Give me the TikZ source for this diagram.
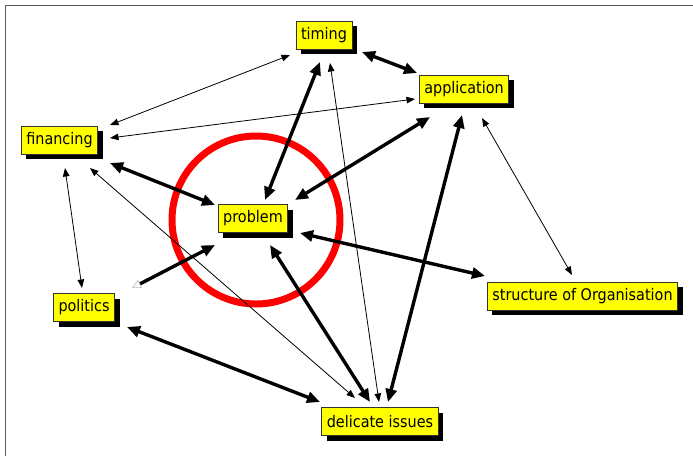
\documentclass[tikz,border=0pt]{standalone}
\usepackage{fontspec}
\setmainfont{DejaVu Sans Condensed}
\usetikzlibrary{arrows.meta,shadows}
\definecolor{boxfill}{RGB}{255,255,0}
\definecolor{framegray}{RGB}{90,90,90}
\tikzset{
  concept/.style={draw=black!80, line width=0.8pt, fill=boxfill,
    inner xsep=5pt, inner ysep=0pt, minimum height=28pt,
    font=\fontsize{16}{19}\selectfont,
    general shadow={fill=black, shadow xshift=5pt, shadow yshift=-5pt}},
  strong/.style={line width=3.4pt,
    {Triangle[length=13pt,width=11pt]}-{Triangle[length=13pt,width=11pt]}},
  weak/.style={line width=0.8pt,
    {Triangle[length=8.5pt,width=6.5pt]}-{Triangle[length=8.5pt,width=6.5pt]}},
}
\begin{document}
\begin{tikzpicture}[x=1pt,y=-1pt]
\useasboundingbox (0,0) rectangle (693,456);
\fill[white] (0,0) rectangle (693,456);
% frame edges
\draw[framegray, line width=1.2pt] (5.5,456) -- (5.5,5.5) -- (693,5.5);

% concept boxes
\node[concept] (timing)      at (324,35)    {timing};
\node[concept] (application) at (464,89)    {application};
\node[concept] (financing)   at (59.5,140)  {financing};
\node[concept] (problem)     at (253,218.5) {problem};
\node[concept] (politics)    at (84,307.5)  {politics};
\node[concept] (structure)   at (582.5,296) {structure of Organisation};
\node[concept] (delicate)    at (380,421.5) {delicate issues};

% highlight ring around the core problem
\draw[red, line width=7pt] (256,220) circle[radius=84];

% relations
\draw[strong] ([shift={(38,17)}]timing.center) -- ([shift={(-47,-16)}]application.center);
\draw[weak]   ([shift={(50.5,-15)}]financing.center) -- ([shift={(-34,20)}]timing.center);
\draw[weak]   ([shift={(50.5,-2)}]financing.center) -- ([shift={(-49,10)}]application.center);
\draw[strong] ([shift={(50.5,23)}]financing.center) -- ([shift={(-38,-13.5)}]problem.center);
\draw[weak]   ([shift={(5.5,28)}]financing.center) -- ([shift={(-2,-19.5)}]politics.center);
\draw[weak]   ([shift={(30.5,28)}]financing.center) -- ([shift={(-25,-23.5)}]delicate.center);
\draw[strong] ([shift={(-4,27)}]timing.center) -- ([shift={(12,-18.5)}]problem.center);
\draw[weak]   ([shift={(6,28)}]timing.center) -- ([shift={(-1,-19.5)}]delicate.center);
\draw[strong] ([shift={(-34,28)}]application.center) -- ([shift={(42,-18.5)}]problem.center);
\draw[strong] ([shift={(-2,26)}]application.center) -- ([shift={(8,-19.5)}]delicate.center);
\draw[weak]   ([shift={(18,29)}]application.center) -- ([shift={(-10.5,-21)}]structure.center);
\draw[strong] ([shift={(47,14.5)}]problem.center) -- ([shift={(-97.5,-20)}]structure.center);
\draw[strong] ([shift={(17,26.5)}]problem.center) -- ([shift={(-10,-19.5)}]delicate.center);
\draw[line width=3.4pt,
  {Triangle[length=9pt,width=9pt,fill=white,color=gray!55,line width=0.6pt]}-{Triangle[length=13pt,width=11pt]}]
  ([shift={(48,-19.5)}]politics.center) -- ([shift={(-38,26.5)}]problem.center);
\draw[strong] ([shift={(43,19.5)}]politics.center) -- ([shift={(-60,-19.5)}]delicate.center);
\end{tikzpicture}
\end{document}
